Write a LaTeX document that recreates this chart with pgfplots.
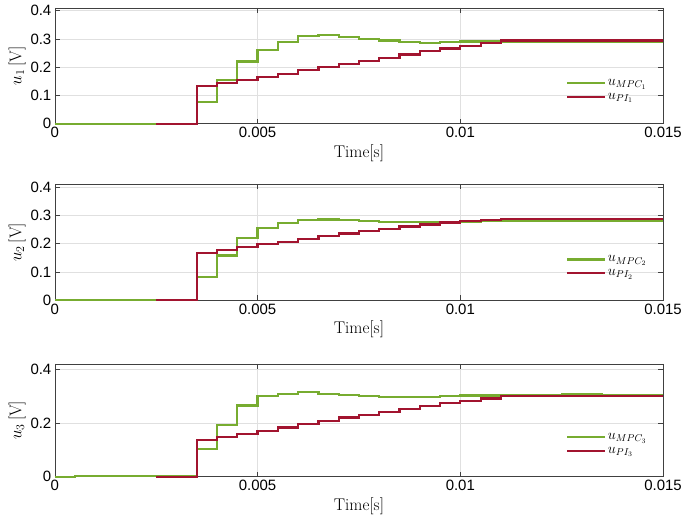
\documentclass[border=0pt]{standalone}
\usepackage{fontspec}
\usepackage{pgfplots}
\pgfplotsset{compat=1.18}
\newfontfamily\tickfont{Liberation Sans}
\definecolor{mgreen}{RGB}{119,172,48}
\definecolor{mred}{RGB}{162,20,47}
\pgfplotsset{
  mystyle/.style={
    width=610pt, height=116pt, scale only axis,
    xmin=0, xmax=0.015, ymin=0,
    clip=false,
    scaled x ticks=false, scaled y ticks=false,
    grid=major,
    major grid style={black!12, line width=0.6pt},
    axis line style={black!75, line width=0.6pt},
    tick style={black!75, line width=0.6pt},
    tick align=inside, major tick length=5pt,
    xtick={0,0.005,0.01,0.015},
    xticklabels={0,0.005,0.01,0.015},
    tick label style={font=\tickfont\fontsize{15}{17}\selectfont},
    label style={font=\fontsize{17}{20}\selectfont},
    xlabel={Time[s]},
    ylabel style={yshift=-2pt},
    legend style={draw=none, fill=none, at={(0.835,0.42)}, anchor=north west,
      font=\fontsize{14}{16}\selectfont, row sep=2pt},
    legend cell align=left,
    legend image code/.code={\draw[##1] (0pt,0pt) -- (38pt,0pt);},
    every axis plot/.append style={const plot, line width=2.2pt, line join=miter},
  }
}
\begin{document}
\begin{tikzpicture}
\path[use as bounding box] (-55pt,0pt) rectangle (632pt,-526pt);
% ---------- axis 1
\begin{axis}[mystyle, at={(0pt,-8pt)}, anchor=north west, ymax=0.41,
  ytick={0,0.1,0.2,0.3,0.4}, yticklabels={0,0.1,0.2,0.3,0.4},
  ylabel={$u_1$\,[V]}]
\addplot[mgreen] coordinates {(0,0)(0.0035,0.078)(0.004,0.155)(0.0045,0.22)(0.005,0.26)(0.0055,0.289)(0.006,0.31)(0.0065,0.315)(0.007,0.307)(0.0075,0.30)(0.008,0.295)(0.0085,0.29)(0.009,0.287)(0.0095,0.288)(0.01,0.291)(0.0105,0.291)(0.011,0.29)(0.015,0.29)};
\addlegendentry{$u_{MPC_1}$}
\addplot[mred] coordinates {(0.0025,0)(0.0035,0.134)(0.004,0.143)(0.0045,0.154)(0.005,0.165)(0.0055,0.177)(0.006,0.189)(0.0065,0.2)(0.007,0.211)(0.0075,0.223)(0.008,0.234)(0.0085,0.245)(0.009,0.257)(0.0095,0.266)(0.01,0.276)(0.0105,0.287)(0.011,0.295)(0.015,0.295)};
\addlegendentry{$u_{PI_1}$}
\end{axis}
% ---------- axis 2
\begin{axis}[mystyle, at={(0pt,-185pt)}, anchor=north west, ymax=0.41,
  ytick={0,0.1,0.2,0.3,0.4}, yticklabels={0,0.1,0.2,0.3,0.4},
  ylabel={$u_2$\,[V]}]
\addplot[mgreen] coordinates {(0,0)(0.0035,0.083)(0.004,0.158)(0.0045,0.22)(0.005,0.255)(0.0055,0.272)(0.006,0.285)(0.0065,0.286)(0.007,0.283)(0.0075,0.28)(0.008,0.278)(0.0085,0.277)(0.009,0.277)(0.0095,0.277)(0.01,0.279)(0.0105,0.281)(0.011,0.282)(0.015,0.282)};
\addlegendentry{$u_{MPC_2}$}
\addplot[mred] coordinates {(0.0025,0)(0.0035,0.166)(0.004,0.177)(0.0045,0.188)(0.005,0.198)(0.0055,0.207)(0.006,0.217)(0.0065,0.226)(0.007,0.236)(0.0075,0.244)(0.008,0.253)(0.0085,0.261)(0.009,0.268)(0.0095,0.275)(0.01,0.28)(0.0105,0.284)(0.011,0.287)(0.015,0.287)};
\addlegendentry{$u_{PI_2}$}
\end{axis}
% ---------- axis 3
\begin{axis}[mystyle, at={(0pt,-365pt)}, anchor=north west, height=113pt, ymax=0.42,
  ytick={0,0.2,0.4}, yticklabels={0,0.2,0.4},
  ylabel={$u_3$\,[V]}]
\addplot[mgreen] coordinates {(0,0)(0.0005,0.002)(0.0035,0.104)(0.004,0.193)(0.0045,0.265)(0.005,0.301)(0.0055,0.309)(0.006,0.314)(0.0065,0.309)(0.007,0.303)(0.0075,0.30)(0.008,0.297)(0.0085,0.297)(0.009,0.298)(0.0095,0.30)(0.01,0.302)(0.0105,0.302)(0.011,0.304)(0.0125,0.306)(0.0135,0.305)(0.015,0.305)};
\addlegendentry{$u_{MPC_3}$}
\addplot[mred] coordinates {(0.0025,0)(0.0035,0.135)(0.004,0.147)(0.0045,0.158)(0.005,0.17)(0.0055,0.183)(0.006,0.196)(0.0065,0.208)(0.007,0.22)(0.0075,0.23)(0.008,0.241)(0.0085,0.252)(0.009,0.263)(0.0095,0.275)(0.01,0.283)(0.0105,0.291)(0.011,0.299)(0.015,0.299)};
\addlegendentry{$u_{PI_3}$}
\end{axis}
\end{tikzpicture}
\end{document}
